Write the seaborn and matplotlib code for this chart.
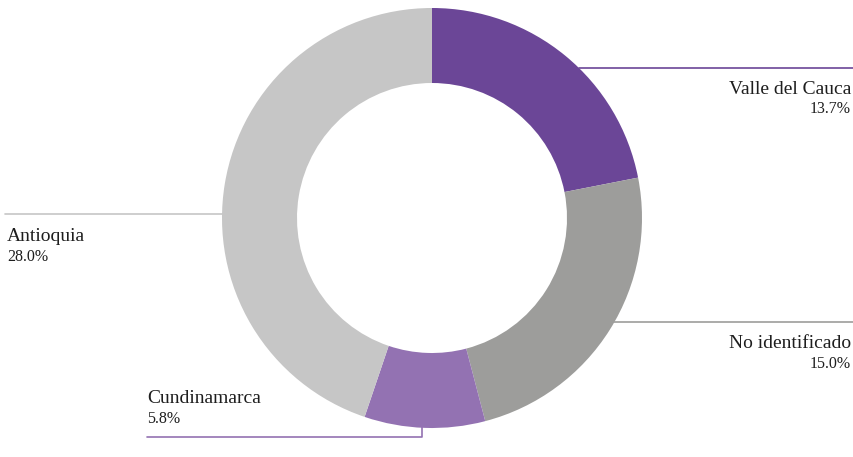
import matplotlib
matplotlib.use("Agg")
import matplotlib.pyplot as plt
import seaborn as sns

categories = ["Valle del Cauca", "No identificado", "Cundinamarca", "Antioquia"]
values = [13.7, 15.0, 5.8, 28.0]
labels = ["13.7%", "15.0%", "5.8%", "28.0%"]
colors = ["#6b4697", "#9d9d9b", "#9372b2", "#c6c6c6"]

sns.set_theme(style="white")
plt.rcParams["font.family"] = ["Liberation Serif", "DejaVu Serif"]

W, H = 854, 457
fig = plt.figure(figsize=(W / 100, H / 100), dpi=100)
ax = fig.add_axes([0, 0, 1, 1])

cx, cy, R, w = 432, H - 218, 210, 75
ax.pie(values, colors=colors, startangle=90, counterclock=False,
       center=(cx, cy), radius=R, wedgeprops=dict(width=w, linewidth=0),
       frame=True)
ax.set_xlim(0, W)
ax.set_ylim(0, H)
ax.set_aspect("equal")
ax.axis("off")

def py(y):
    return H - y

tc = "#1e1e1e"
fs1, fs2 = 14, 11.5
# Valle del Cauca
ax.plot([579, 854], [py(68), py(68)], color=colors[0], lw=1.2)
ax.text(851, py(94), categories[0], ha="right", va="baseline", fontsize=fs1, color=tc)
ax.text(851, py(113), labels[0], ha="right", va="baseline", fontsize=fs2, color=tc)
# No identificado
ax.plot([613, 854], [py(322), py(322)], color=colors[1], lw=1.2)
ax.text(851, py(348), categories[1], ha="right", va="baseline", fontsize=fs1, color=tc)
ax.text(851, py(368), labels[1], ha="right", va="baseline", fontsize=fs2, color=tc)
# Cundinamarca
ax.plot([147, 422, 422], [py(437), py(437), py(427)], color=colors[2], lw=1.2)
ax.text(147, py(403), categories[2], ha="left", va="baseline", fontsize=fs1, color=tc)
ax.text(147, py(423), labels[2], ha="left", va="baseline", fontsize=fs2, color=tc)
# Antioquia
ax.plot([5, 224], [py(214), py(214)], color=colors[3], lw=1.2)
ax.text(7, py(241), categories[3], ha="left", va="baseline", fontsize=fs1, color=tc)
ax.text(7, py(261), labels[3], ha="left", va="baseline", fontsize=fs2, color=tc)

fig.savefig("out.png", dpi=100, facecolor="white")
